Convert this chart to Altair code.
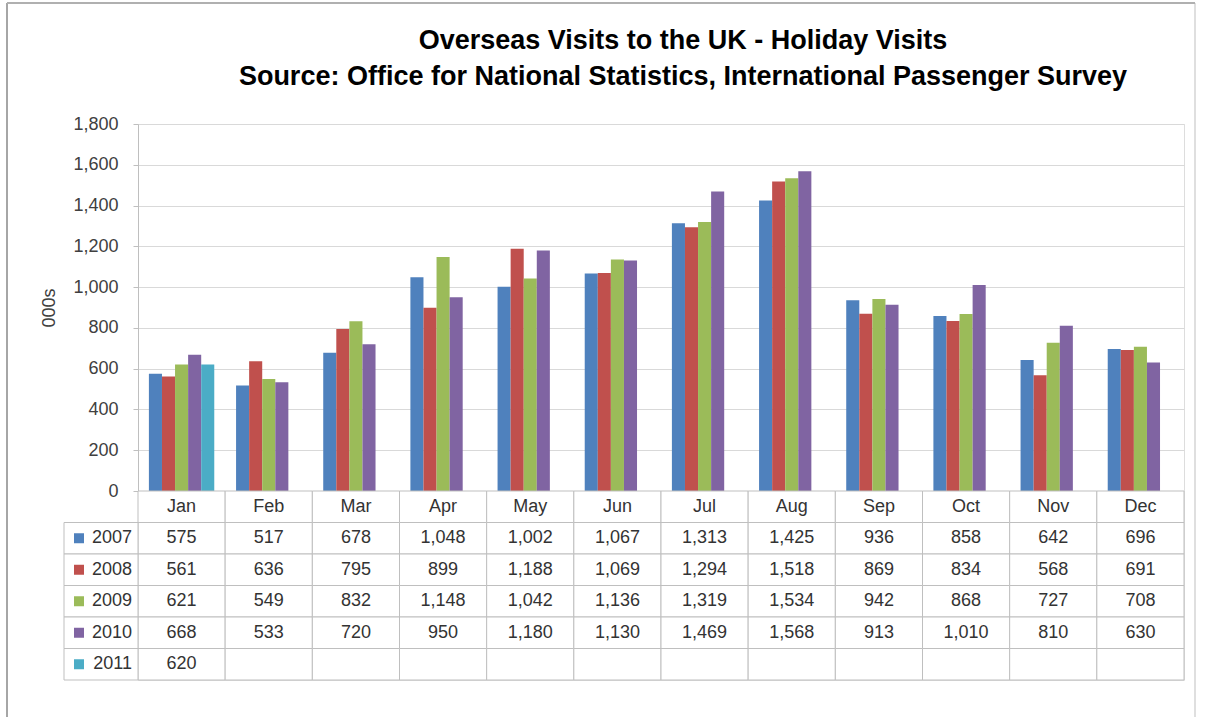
import altair as alt
import pandas as pd

months = ["Jan", "Feb", "Mar", "Apr", "May", "Jun", "Jul", "Aug", "Sep", "Oct", "Nov", "Dec"]
years = ["2007", "2008", "2009", "2010", "2011"]
colors = ["#4F81BD", "#C0504D", "#9BBB59", "#8064A2", "#4BACC6"]

v2007 = [575, 517, 678, 1048, 1002, 1067, 1313, 1425, 936, 858, 642, 696]
v2008 = [561, 636, 795, 899, 1188, 1069, 1294, 1518, 869, 834, 568, 691]
v2009 = [621, 549, 832, 1148, 1042, 1136, 1319, 1534, 942, 868, 727, 708]
v2010 = [668, 533, 720, 950, 1180, 1130, 1469, 1568, 913, 1010, 810, 630]
v2011 = [620]

series = {"2007": v2007, "2008": v2008, "2009": v2009, "2010": v2010, "2011": v2011}
y_ticks = [0, 200, 400, 600, 800, 1000, 1200, 1400, 1600, 1800]

title_lines = ["Overseas Visits to the UK - Holiday Visits",
               "Source: Office for National Statistics, International Passenger Survey"]

FONT = "Liberation Sans"
W = 1046
H = 367
TH = 189

rows = []
for y in years:
    for m, v in zip(months, series[y]):
        rows.append({"month": m, "year": y, "value": v})
df = pd.DataFrame(rows)

table_rows = ["hdr"] + years
cells = pd.DataFrame([{"month": m, "row": r} for r in table_rows for m in months])
hdr = pd.DataFrame({"month": months, "row": "hdr"})
legend_df = pd.DataFrame({"row": years, "year": years})
one = pd.DataFrame({"k": [0]})

color_scale = alt.Scale(domain=years, range=colors)

bars = alt.Chart(df).mark_bar().encode(
    x=alt.X("month:N", sort=months, axis=None,
            scale=alt.Scale(domain=months, paddingInner=0.25, paddingOuter=0.125)),
    xOffset=alt.XOffset("year:N", scale=alt.Scale(domain=years, paddingInner=0, paddingOuter=0)),
    y=alt.Y("value:Q", scale=alt.Scale(domain=[0, 1800], nice=False),
            axis=alt.Axis(values=y_ticks, format=",.0f", title="000s", grid=True,
                          gridColor="#d9d9d9", domainColor="#bfbfbf", tickColor="#bfbfbf",
                          tickSize=5, labelPadding=15, labelFontSize=18, labelColor="#404040",
                          labelFont=FONT, titleFont=FONT, titleFontSize=18,
                          titleFontWeight="normal", titleColor="#404040", titlePadding=14)),
    color=alt.Color("year:N", scale=color_scale, legend=None),
)

# outer chart-area frame (decoration)
frame_left = alt.Chart(one).mark_rule(color="#a6a6a6", strokeWidth=2).encode(
    x=alt.value(-131), y=alt.value(-121), y2=alt.value(H))
frame_right = alt.Chart(one).mark_rule(color="#d4d4d4", strokeWidth=1.5).encode(
    x=alt.value(1057), y=alt.value(-121), y2=alt.value(H))
frame_top = alt.Chart(one).mark_rule(color="#b0b0b0", strokeWidth=2).encode(
    x=alt.value(-131), x2=alt.value(1057), y=alt.value(-121))

top_chart = alt.layer(bars, frame_left, frame_right, frame_top).properties(width=W, height=H)

yscale = alt.Scale(domain=table_rows, paddingInner=0, paddingOuter=0)
xscale = alt.Scale(domain=months, paddingInner=0, paddingOuter=0)

cell_layer = alt.Chart(cells).mark_rect(fill="white", stroke="#bfbfbf", strokeWidth=1).encode(
    x=alt.X("month:N", scale=xscale, axis=None, sort=months),
    y=alt.Y("row:N", scale=yscale, axis=None, sort=table_rows),
)
legend_cells = alt.Chart(legend_df).mark_rect(fill="white", stroke="#bfbfbf", strokeWidth=1).encode(
    x=alt.value(-74), x2=alt.value(0),
    y=alt.Y("row:N", scale=yscale, axis=None, sort=table_rows),
)
legend_sq = alt.Chart(legend_df).mark_square(size=100, opacity=1).encode(
    x=alt.value(-59),
    y=alt.Y("row:N", scale=yscale, axis=None, sort=table_rows),
    color=alt.Color("year:N", scale=color_scale, legend=None),
)
legend_txt = alt.Chart(legend_df).mark_text(align="right", baseline="middle", fontSize=18,
                                            font=FONT, color="#333333").encode(
    x=alt.value(-6),
    y=alt.Y("row:N", scale=yscale, axis=None, sort=table_rows),
    text="year:N",
)
hdr_txt = alt.Chart(hdr).mark_text(baseline="middle", fontSize=18, font=FONT, color="#333333").encode(
    x=alt.X("month:N", scale=xscale, axis=None, sort=months),
    y=alt.Y("row:N", scale=yscale, axis=None, sort=table_rows),
    text="month:N",
)
val_txt = alt.Chart(df).mark_text(baseline="middle", fontSize=18, font=FONT, color="#333333").encode(
    x=alt.X("month:N", scale=xscale, axis=None, sort=months),
    y=alt.Y("year:N", scale=yscale, axis=None, sort=table_rows),
    text=alt.Text("value:Q", format=",.0f"),
)
tframe_left = alt.Chart(one).mark_rule(color="#a6a6a6", strokeWidth=2).encode(
    x=alt.value(-131), y=alt.value(0), y2=alt.value(226))
tframe_right = alt.Chart(one).mark_rule(color="#d4d4d4", strokeWidth=1.5).encode(
    x=alt.value(1057), y=alt.value(0), y2=alt.value(226))

table = alt.layer(cell_layer, legend_cells, legend_sq, legend_txt, hdr_txt, val_txt,
                  tframe_left, tframe_right).properties(width=W, height=TH)

chart = alt.vconcat(top_chart, table, spacing=0, bounds="flush").properties(
    title=alt.TitleParams(title_lines, font=FONT, fontSize=27, fontWeight="bold", color="#000000",
                          anchor="middle", lineHeight=36, offset=-89, dx=82),
    padding={"left": 5, "top": 1, "right": 5, "bottom": 0},
).configure_view(stroke=None).configure(background="white")

chart.save("out.html", embed_options={"renderer": "svg", "actions": False})
